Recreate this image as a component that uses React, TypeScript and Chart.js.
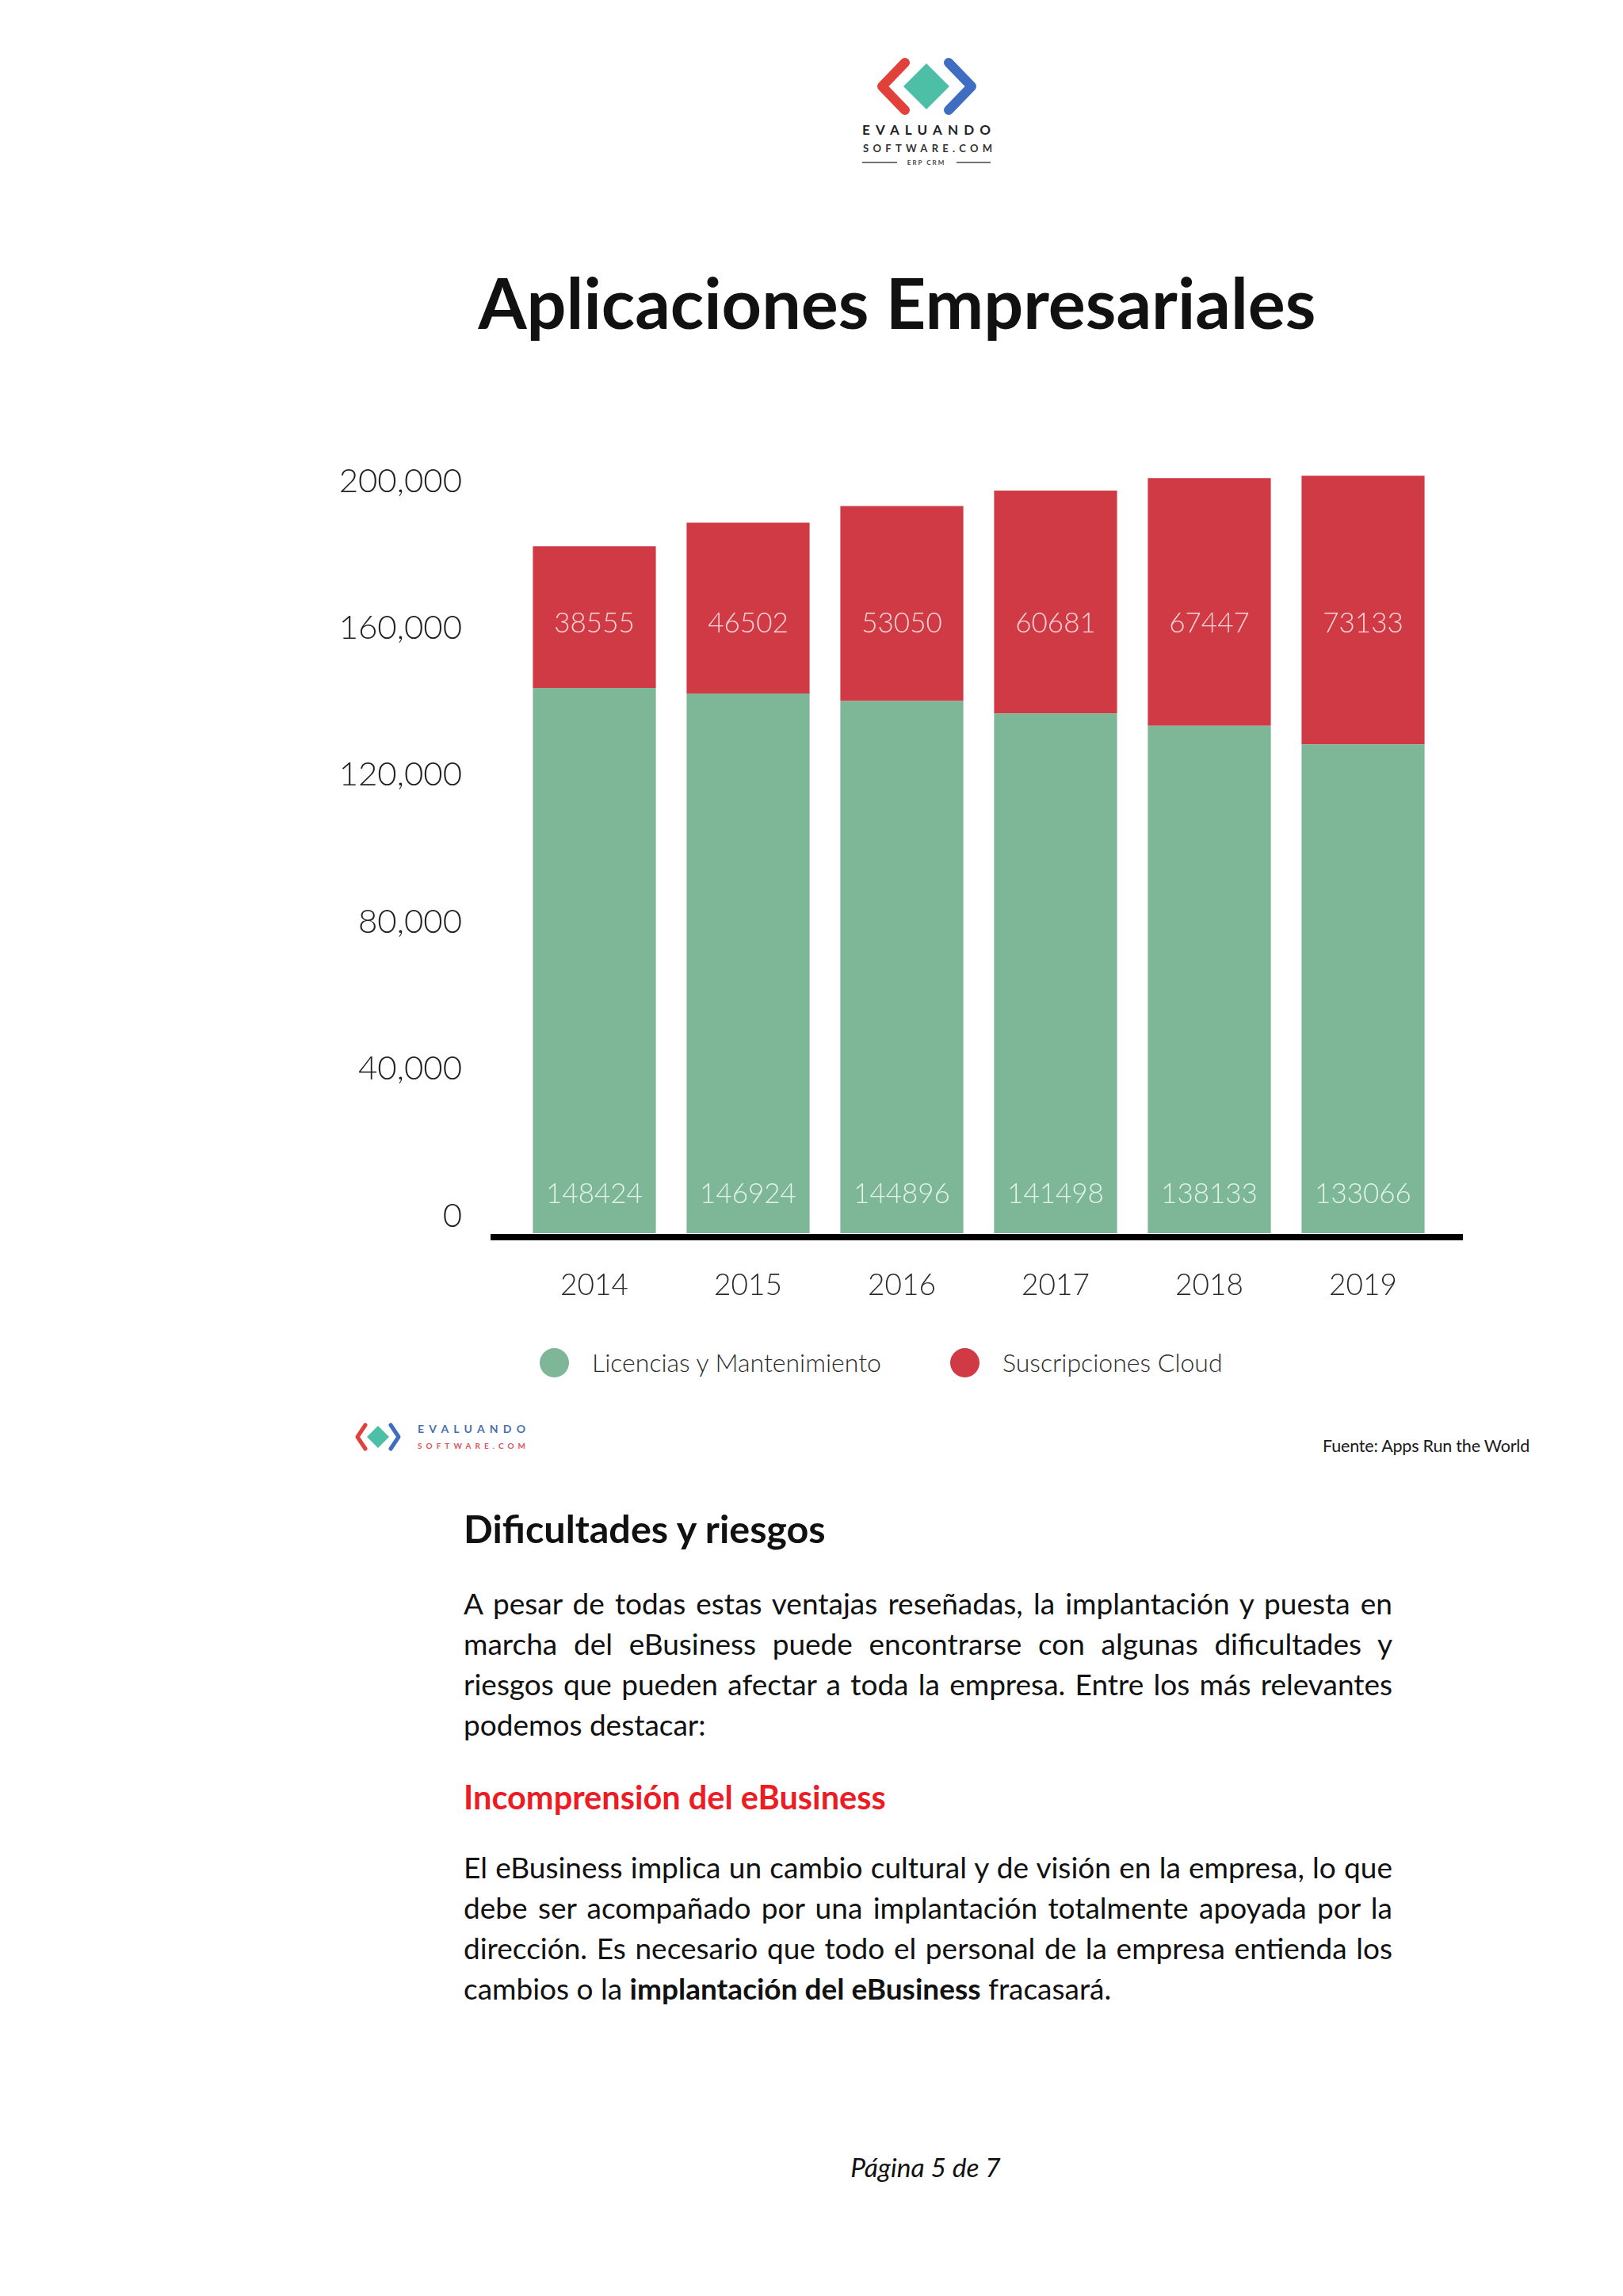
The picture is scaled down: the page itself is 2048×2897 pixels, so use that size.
import React, { useEffect, useRef } from 'react';
import { Chart, registerables } from 'chart.js';

Chart.register(...registerables);

// ---------- data ----------
const years = ['2014', '2015', '2016', '2017', '2018', '2019'];
const licencias = [148424, 146924, 144896, 141498, 138133, 133066];
const cloud = [38555, 46502, 53050, 60681, 67447, 73133];
const yTicks = [0, 40000, 80000, 120000, 160000, 200000];
const seriesNames = ['Licencias y Mantenimiento', 'Suscripciones Cloud'];
const seriesColors = ['#7DB797', '#D03A45'];

const FONT = 'Lato, "Noto Sans", sans-serif';

// label levels (styling of where the in-bar value labels sit)
const RED_LABEL_LEVEL = 166000;
const GREEN_LABEL_LIFT = 49;

const baseLinePlugin = {
  id: 'baseLine',
  afterDatasetsDraw(chart: any) {
    const { ctx, chartArea } = chart;
    const y0 = chart.scales.y.getPixelForValue(0);
    ctx.save();
    ctx.fillStyle = '#000';
    ctx.fillRect(chartArea.left - 34, y0 + 1, chartArea.right - chartArea.left + 63, 8);
    ctx.restore();
  },
};

const segmentLabelPlugin = {
  id: 'segmentLabels',
  afterDatasetsDraw(chart: any) {
    const { ctx } = chart;
    const ys = chart.scales.y;
    ctx.save();
    ctx.font = `300 35px ${FONT}`;
    ctx.textAlign = 'center';
    ctx.textBaseline = 'middle';
    chart.data.datasets.forEach((ds: any, di: number) => {
      const meta = chart.getDatasetMeta(di);
      meta.data.forEach((bar: any, i: number) => {
        const y = di === 0 ? ys.getPixelForValue(0) - GREEN_LABEL_LIFT : ys.getPixelForValue(RED_LABEL_LEVEL);
        ctx.fillStyle = di === 0 ? 'rgba(236,248,240,0.92)' : 'rgba(252,226,228,0.92)';
        ctx.fillText(String(ds.data[i]), bar.x, y);
      });
    });
    ctx.restore();
  },
};

function BarChart() {
  const ref = useRef<HTMLCanvasElement | null>(null);
  useEffect(() => {
    let chart: Chart | null = null;
    let cancelled = false;
    const make = () => {
      if (cancelled || !ref.current) return;
      chart = new Chart(ref.current, {
        type: 'bar',
        data: {
          labels: years,
          datasets: [
            { label: seriesNames[0], data: licencias, backgroundColor: seriesColors[0], borderWidth: 0, barPercentage: 0.8, categoryPercentage: 1 },
            { label: seriesNames[1], data: cloud, backgroundColor: seriesColors[1], borderWidth: 0, barPercentage: 0.8, categoryPercentage: 1 },
          ],
        },
        options: {
          responsive: false,
          animation: false,
          devicePixelRatio: 1,
          layout: { padding: { top: 42.65, right: 63, left: 0, bottom: 0 } },
          plugins: { legend: { display: false }, tooltip: { enabled: false }, title: { display: false } },
          scales: {
            x: {
              stacked: true,
              grid: { display: false, drawTicks: false },
              border: { display: false },
              ticks: { color: '#2a2a2a', font: { family: FONT, size: 37, weight: '300' }, padding: 44 },
              afterFit: (s: any) => { s.height = 104; },
            },
            y: {
              stacked: true,
              min: 0,
              max: 210000,
              grid: { display: false, drawTicks: true, tickLength: 70 },
              border: { display: false },
              afterBuildTicks: (s: any) => { s.ticks = yTicks.map((v) => ({ value: v })); },
              ticks: {
                color: '#222',
                font: { family: FONT, size: 42, weight: '300' },
                padding: 0,
                labelOffset: -22,
                callback: (v: any) => Number(v).toLocaleString('en-US'),
              },
              afterFit: (s: any) => { s.width = 273; },
            },
          },
        } as any,
        plugins: [baseLinePlugin, segmentLabelPlugin],
      });
    };
    const fontsReady = (document as any).fonts
      ? Promise.all([
          (document as any).fonts.load(`300 42px Lato`),
          (document as any).fonts.load(`400 42px Lato`),
        ]).catch(() => null)
      : Promise.resolve(null);
    fontsReady.then(make);
    return () => {
      cancelled = true;
      if (chart) chart.destroy();
    };
  }, []);
  return (
    <canvas
      ref={ref}
      width={1500}
      height={1120}
      style={{ position: 'absolute', left: 380, top: 540, width: 1500, height: 1120 }}
    />
  );
}

const abs = (s: React.CSSProperties): React.CSSProperties => ({ position: 'absolute', ...s });

function TopLogo() {
  return (
    <svg style={abs({ left: 1080, top: 60, width: 180, height: 160 })} viewBox="0 0 180 160">
      <polyline points="62,19 33,49 62,79" fill="none" stroke="#E2403A" strokeWidth={12} strokeLinecap="round" strokeLinejoin="round" />
      <polygon points="89,20 118,49 89,78 60,49" fill="#4CBFA6" />
      <polyline points="117,19 146,49 117,79" fill="none" stroke="#3F6DC2" strokeWidth={12} strokeLinecap="round" strokeLinejoin="round" />
      <text x={8} y={110} textLength={162} lengthAdjust="spacing" fontFamily="Lato" fontWeight={700} fontSize={17} fill="#222">EVALUANDO</text>
      <text x={9} y={132} textLength={163} lengthAdjust="spacing" fontFamily="Lato" fontWeight={700} fontSize={13} fill="#333">SOFTWARE.COM</text>
      <line x1={8} y1={145} x2={52} y2={145} stroke="#444" strokeWidth={1.5} />
      <line x1={127} y1={145} x2={170} y2={145} stroke="#444" strokeWidth={1.5} />
      <text x={89} y={148} textAnchor="middle" fontFamily="Lato" fontWeight={700} fontSize={8} fill="#444" letterSpacing={2}>ERP CRM</text>
    </svg>
  );
}

function FooterLogo() {
  return (
    <svg style={abs({ left: 440, top: 1785, width: 240, height: 60 })} viewBox="0 0 240 60">
      <polyline points="21,13 11,28 21,43" fill="none" stroke="#E2403A" strokeWidth={5} strokeLinecap="round" strokeLinejoin="round" />
      <polygon points="37,14 51,28 37,42 23,28" fill="#4CBFA6" />
      <polyline points="53,13 63,28 53,43" fill="none" stroke="#3F6DC2" strokeWidth={5} strokeLinecap="round" strokeLinejoin="round" />
      <text x={87} y={23} textLength={136} lengthAdjust="spacing" fontFamily="Lato" fontWeight={700} fontSize={14} fill="#4A6FB0">EVALUANDO</text>
      <text x={87} y={43} textLength={136} lengthAdjust="spacing" fontFamily="Lato" fontWeight={700} fontSize={10} fill="#E0525B">SOFTWARE.COM</text>
    </svg>
  );
}

function Legend() {
  const centers = [699, 1217];
  return (
    <>
      {seriesNames.map((name, i) => (
        <React.Fragment key={name}>
          <div style={abs({ left: centers[i] - 18.5, top: 1719 - 18.5, width: 37, height: 37, borderRadius: '50%', background: seriesColors[i] })} />
          <div style={abs({ left: centers[i] + 48, top: 1719 - 20, height: 40, lineHeight: '40px', fontFamily: FONT, fontWeight: 300, fontSize: 32, color: '#2a2a2a', whiteSpace: 'nowrap' })}>{name}</div>
        </React.Fragment>
      ))}
    </>
  );
}

const bodyText: React.CSSProperties = { fontFamily: FONT, fontSize: 37, lineHeight: '51px', color: '#111' };
const justLine: React.CSSProperties = { textAlign: 'justify', textAlignLast: 'justify' as any };

export default function App() {
  useEffect(() => {
    document.body.style.margin = '0';
  }, []);
  return (
    <div style={abs({ left: 0, top: 0, width: 2048, height: 2897, background: '#fff', overflow: 'hidden' })}>
      <TopLogo />
      <div style={abs({ left: 432, top: 329, width: 1400, textAlign: 'center', fontFamily: FONT, fontWeight: 700, fontSize: 88, lineHeight: 1.2, color: '#111', whiteSpace: 'nowrap' })}>
        Aplicaciones Empresariales
      </div>
      <BarChart />
      <Legend />
      <FooterLogo />
      <div style={abs({ left: 1560, top: 1811, width: 370, textAlign: 'right', fontFamily: FONT, fontWeight: 400, fontSize: 21.5, lineHeight: '26px', color: '#1a1a1a', letterSpacing: -0.2, whiteSpace: 'nowrap' })}>
        Fuente: Apps Run the World
      </div>

      <div style={abs({ left: 585, top: 1899, fontFamily: FONT, fontWeight: 700, fontSize: 48.5, lineHeight: 1.2, color: '#111', whiteSpace: 'nowrap' })}>
        Dificultades y riesgos
      </div>
      <div style={abs({ left: 585, top: 1997, width: 1172, ...bodyText })}>
        <div style={justLine}>A pesar de todas estas ventajas reseñadas, la implantación y puesta en</div>
        <div style={justLine}>marcha del eBusiness puede encontrarse con algunas dificultades y</div>
        <div style={justLine}>riesgos que pueden afectar a toda la empresa. Entre los más relevantes</div>
        <div>podemos destacar:</div>
      </div>

      <div style={abs({ left: 585, top: 2243, fontFamily: FONT, fontWeight: 700, fontSize: 41.5, lineHeight: 1.2, color: '#EC1C24', whiteSpace: 'nowrap' })}>
        Incomprensión del eBusiness
      </div>
      <div style={abs({ left: 585, top: 2330, width: 1172, ...bodyText })}>
        <div style={justLine}>El eBusiness implica un cambio cultural y de visión en la empresa, lo que</div>
        <div style={justLine}>debe ser acompañado por una implantación totalmente apoyada por la</div>
        <div style={justLine}>dirección. Es necesario que todo el personal de la empresa entienda los</div>
        <div>cambios o la <b>implantación del eBusiness</b> fracasará.</div>
      </div>

      <div style={abs({ left: 968, top: 2714, width: 400, textAlign: 'center', fontFamily: FONT, fontStyle: 'italic', fontSize: 33.5, lineHeight: 1.2, color: '#111' })}>
        Página 5 de 7
      </div>
    </div>
  );
}
